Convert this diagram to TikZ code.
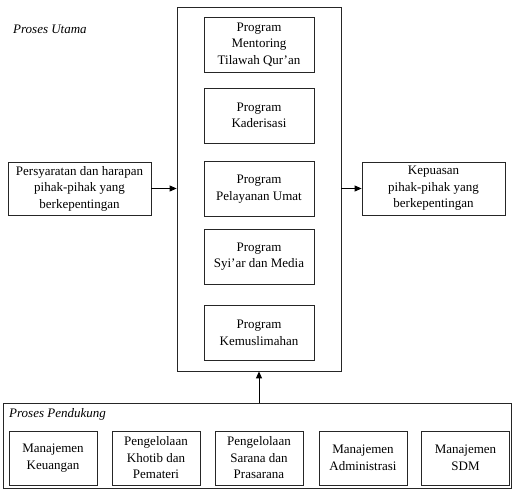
\documentclass[tikz,border=0pt]{standalone}
\usepackage{fontspec}
\setmainfont{Liberation Serif}
\usetikzlibrary{arrows.meta}
\begin{document}
\begin{tikzpicture}[x=1pt,y=-1pt,
  box/.style={draw=black!85,line width=0.8pt,align=center,inner sep=0pt,
    font=\fontsize{13}{16.5}\selectfont},
  lbl/.style={anchor=west,inner sep=0pt,font=\fontsize{13}{16}\selectfont\itshape},
  arr/.style={draw=black,line width=0.9pt,-{Triangle[length=7pt,width=6pt]}}]
\useasboundingbox (0,0) rectangle (512,491);
\node[box,minimum width=164,minimum height=364] (main) at (259,189) {};
\node[box,minimum width=110,minimum height=55] (p1) at (259,44.5) {Program\\Mentoring\\Tilawah Qur’an};
\node[box,minimum width=110,minimum height=55] (p2) at (259,115.5) {Program\\Kaderisasi};
\node[box,minimum width=110,minimum height=55] (p3) at (259,189) {Program\\Pelayanan Umat};
\node[box,minimum width=110,minimum height=55] (p4) at (259,256.5) {Program\\Syi’ar dan Media};
\node[box,minimum width=110,minimum height=55] (p5) at (259,333) {Program\\Kemuslimahan};
\node[lbl] (pu) at (13,29) {Proses Utama};
\node[box,minimum width=143,minimum height=53] (left) at (79.5,188.5) {Persyaratan dan harapan\\pihak-pihak yang\\berkepentingan};
\node[box,minimum width=143,minimum height=53] (right) at (433.5,188.5) {Kepuasan\\pihak-pihak yang\\berkepentingan};
\draw[arr] (left.east) -- (left.east -| main.west);
\draw[arr] (right.west -| main.east) -- (right.west);
\node[box,minimum width=508,minimum height=85] (sup) at (257,445.5) {};
\node[lbl] (pp) at (9,414) {Proses Pendukung};
\node[box,minimum width=88,minimum height=54] (s1) at (53,458) {Manajemen\\Keuangan};
\node[box,minimum width=88,minimum height=54] (s2) at (156,458) {Pengelolaan\\Khotib dan\\Pemateri};
\node[box,minimum width=88,minimum height=54] (s3) at (259,458) {Pengelolaan\\Sarana dan\\Prasarana};
\node[box,minimum width=88,minimum height=54] (s4) at (363,458) {Manajemen\\Administrasi};
\node[box,minimum width=88,minimum height=54] (s5) at (465.5,458) {Manajemen\\SDM};
\draw[arr] (main.south |- sup.north) -- (main.south);
\end{tikzpicture}
\end{document}
